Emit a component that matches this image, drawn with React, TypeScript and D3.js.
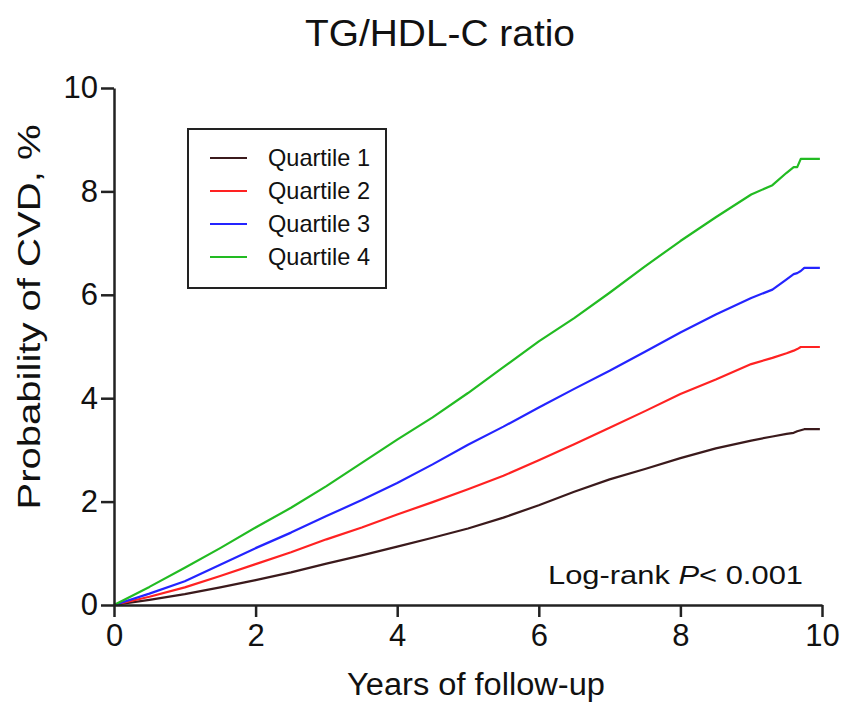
import { useEffect, useRef } from 'react';
import * as d3 from 'd3';

// Kaplan-Meier style cumulative incidence (years, %)
const years = [0, 0.5, 1, 1.5, 2, 2.5, 3, 3.5, 4, 4.5, 5, 5.5, 6, 6.5, 7, 7.5, 8, 8.5, 9, 9.3, 9.5, 9.6, 9.65, 9.7, 9.75, 9.97];

const quartile1 = [0, 0.1, 0.21, 0.34, 0.48, 0.63, 0.8, 0.96, 1.13, 1.3, 1.48, 1.69, 1.93, 2.19, 2.43, 2.63, 2.84, 3.03, 3.18, 3.26, 3.31, 3.33, 3.36, 3.38, 3.4, 3.4];
const quartile2 = [0, 0.16, 0.34, 0.56, 0.79, 1.02, 1.27, 1.5, 1.75, 1.99, 2.24, 2.5, 2.8, 3.11, 3.43, 3.75, 4.08, 4.36, 4.66, 4.78, 4.87, 4.92, 4.95, 4.99, 4.99, 4.99];
const quartile3 = [0, 0.22, 0.46, 0.78, 1.1, 1.4, 1.72, 2.03, 2.36, 2.72, 3.1, 3.45, 3.82, 4.18, 4.53, 4.9, 5.27, 5.62, 5.94, 6.1, 6.3, 6.4, 6.42, 6.46, 6.52, 6.52];
const quartile4 = [0, 0.35, 0.72, 1.1, 1.5, 1.88, 2.3, 2.75, 3.2, 3.63, 4.1, 4.6, 5.1, 5.55, 6.04, 6.55, 7.04, 7.5, 7.94, 8.12, 8.36, 8.47, 8.47, 8.63, 8.63, 8.63];

const seriesNames = ['Quartile 1', 'Quartile 2', 'Quartile 3', 'Quartile 4'];
const seriesColors = ['#3b1a1c', '#ff2222', '#2424ff', '#22bb22'];

const xTicks = [0, 2, 4, 6, 8, 10];
const yTicks = [0, 2, 4, 6, 8, 10];

const FONT = '"Liberation Sans", Arial, sans-serif';

export default function App() {
  const svgRef = useRef<SVGSVGElement>(null);

  useEffect(() => {
    if (!svgRef.current) return;
    const svg = d3.select(svgRef.current);
    svg.selectAll('*').remove();

    const xScale = d3.scaleLinear().domain([0, 10]).range([114, 822]);
    const yScale = d3.scaleLinear().domain([0, 10]).range([605, 88]);

    const allSeries = [quartile1, quartile2, quartile3, quartile4];

    const line = d3
      .line<[number, number]>()
      .x((d) => xScale(d[0]))
      .y((d) => yScale(d[1]))
      .curve(d3.curveLinear);

    // Lines
    allSeries.forEach((vals, i) => {
      const pts = years.map((t, j) => [t, vals[j]] as [number, number]);
      svg
        .append('path')
        .datum(pts)
        .attr('fill', 'none')
        .attr('stroke', seriesColors[i])
        .attr('stroke-width', 2.2)
        .attr('stroke-linejoin', 'round')
        .attr('d', line);
    });

    // X axis
    const xAxis = svg
      .append('g')
      .attr('transform', `translate(0,${yScale(0)})`)
      .call(d3.axisBottom(xScale).tickValues(xTicks).tickSize(12).tickSizeOuter(0).tickPadding(7));
    xAxis.select('.domain').attr('stroke', '#222').attr('stroke-width', 2.5);
    xAxis.selectAll('.tick line').attr('stroke', '#222').attr('stroke-width', 2.5);
    xAxis
      .selectAll('.tick text')
      .attr('fill', '#111')
      .style('font-family', FONT)
      .style('font-size', '31px');

    // Y axis
    const yAxis = svg
      .append('g')
      .attr('transform', `translate(${xScale(0)},0)`)
      .call(d3.axisLeft(yScale).tickValues(yTicks).tickSize(13).tickSizeOuter(0).tickPadding(3));
    yAxis.select('.domain').attr('stroke', '#222').attr('stroke-width', 2.5);
    yAxis.selectAll('.tick line').attr('stroke', '#222').attr('stroke-width', 2.5);
    yAxis
      .selectAll('.tick text')
      .attr('fill', '#111')
      .style('font-family', FONT)
      .style('font-size', '31px');

    // Title
    svg
      .append('text')
      .attr('x', 440)
      .attr('y', 46)
      .attr('text-anchor', 'middle')
      .attr('textLength', 270)
      .attr('lengthAdjust', 'spacingAndGlyphs')
      .style('font-family', FONT)
      .style('font-size', '37px')
      .attr('fill', '#111')
      .text('TG/HDL-C ratio');

    // Axis labels
    svg
      .append('text')
      .attr('x', 476)
      .attr('y', 695)
      .attr('text-anchor', 'middle')
      .attr('textLength', 258)
      .attr('lengthAdjust', 'spacingAndGlyphs')
      .style('font-family', FONT)
      .style('font-size', '31px')
      .attr('fill', '#111')
      .text('Years of follow-up');

    svg
      .append('text')
      .attr('transform', `translate(40,317) rotate(-90)`)
      .attr('text-anchor', 'middle')
      .attr('textLength', 385)
      .attr('lengthAdjust', 'spacingAndGlyphs')
      .style('font-family', FONT)
      .style('font-size', '32px')
      .attr('fill', '#111')
      .text('Probability of CVD, %');

    // Log-rank annotation
    const lr = svg
      .append('text')
      .attr('x', 548)
      .attr('y', 584)
      .attr('textLength', 255)
      .attr('lengthAdjust', 'spacingAndGlyphs')
      .style('font-family', FONT)
      .style('font-size', '26px')
      .attr('fill', '#111');
    lr.append('tspan').text('Log-rank ');
    lr.append('tspan').style('font-style', 'italic').text('P');
    lr.append('tspan').text('< 0.001');

    // Legend
    const legend = svg.append('g');
    legend
      .append('rect')
      .attr('x', 188)
      .attr('y', 129)
      .attr('width', 198)
      .attr('height', 159)
      .attr('fill', '#fff')
      .attr('stroke', '#222')
      .attr('stroke-width', 2);

    seriesNames.forEach((name, i) => {
      const yy = 158 + i * 33;
      legend
        .append('line')
        .attr('x1', 210)
        .attr('x2', 247)
        .attr('y1', yy)
        .attr('y2', yy)
        .attr('stroke', seriesColors[i])
        .attr('stroke-width', 2.2);
      legend
        .append('text')
        .attr('x', 268)
        .attr('y', yy + 8)
        .attr('textLength', 102)
        .attr('lengthAdjust', 'spacingAndGlyphs')
        .style('font-family', FONT)
        .style('font-size', '24px')
        .attr('fill', '#111')
        .text(name);
    });
  }, []);

  return (
    <div style={{ position: 'absolute', left: 0, top: 0 }}>
      <svg ref={svgRef} width={852} height={712} style={{ display: 'block', background: '#fff' }} />
    </div>
  );
}
